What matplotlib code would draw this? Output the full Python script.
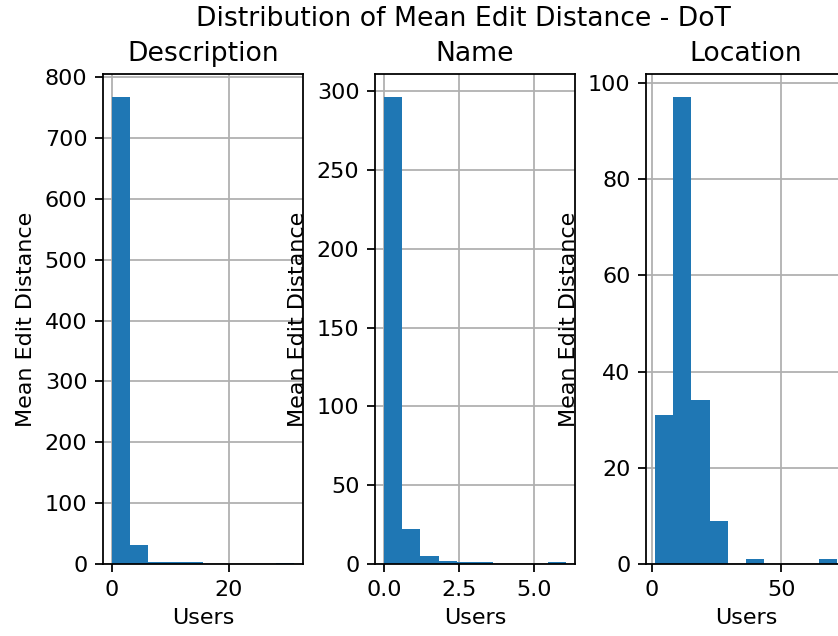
import numpy as np
import matplotlib
matplotlib.use("Agg")
from matplotlib import pyplot as plt

# Histogram counts (10 bins each)
titles = ["Description", "Name", "Location"]
desc_counts = [767, 31, 4, 4, 4, 0, 0, 0, 0, 1]
name_counts = [296, 22, 5, 2, 1, 1, 0, 0, 0, 1]
loc_counts = [31, 97, 34, 9, 0, 1, 0, 0, 0, 1]
# data range (min, max) of each column
desc_range = (0.0, 31.2)
name_range = (0.0, 6.05)
loc_range = (1.2, 71.4)

counts = [desc_counts, name_counts, loc_counts]
ranges = [desc_range, name_range, loc_range]

dpi = 160
fig = plt.figure(figsize=(838 / dpi, 636 / dpi), dpi=dpi)
lefts = [103 / 838, 375 / 838, 646 / 838]
for left, title, cnt, rng in zip(lefts, titles, counts, ranges):
    ax = fig.add_axes([left, 72 / 636, 200 / 838, 490 / 636])
    edges = np.linspace(rng[0], rng[1], len(cnt) + 1)
    ax.hist(edges[:-1], bins=edges, weights=cnt, color="#1f77b4")
    ax.grid(True)
    ax.set_axisbelow(True)
    ax.set_title(title)
    ax.set_xlabel("Users")
    ax.set_ylabel("Mean Edit Distance")

# the reference is cropped on the right, so the suptitle sits right of centre
fig.suptitle("Distribution of Mean Edit Distance - DoT", x=0.553, y=0.99)
fig.savefig("out.png", dpi=dpi)
